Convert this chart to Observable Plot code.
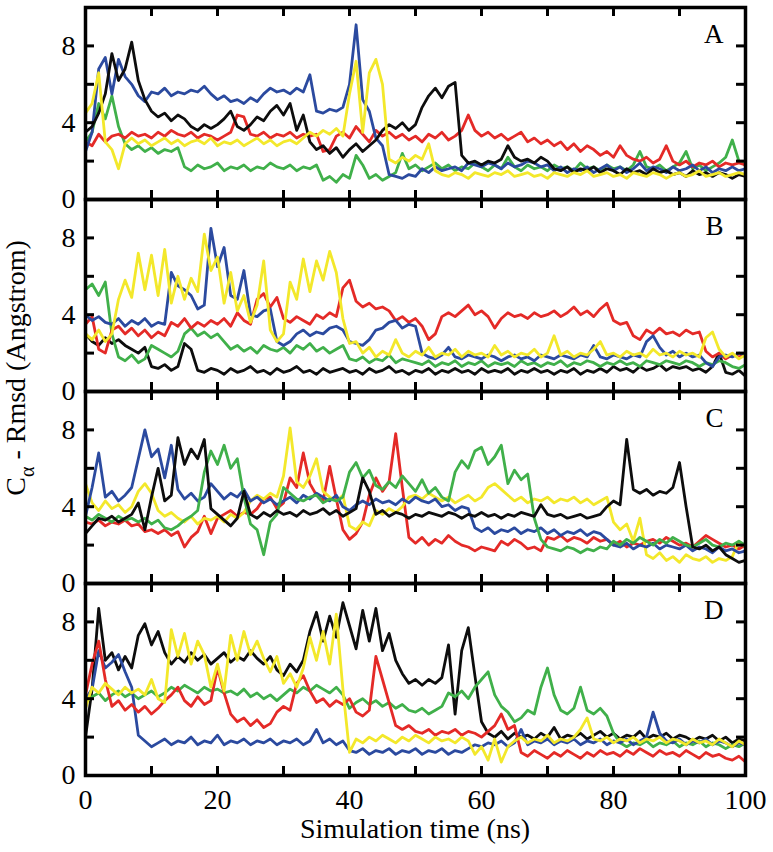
<!DOCTYPE html>
<html>
<head>
<meta charset="utf-8">
<script src="https://cdn.jsdelivr.net/npm/d3@7"></script>
<script src="https://cdn.jsdelivr.net/npm/@observablehq/plot@0.6"></script>
<style>
  html, body { margin: 0; padding: 0; background: #fff; }
  #chart { position: relative; width: 773px; height: 852px; overflow: hidden; font-family: "Liberation Serif", serif; }
  #chart svg { position: absolute; left: 0; top: 0; }
</style>
</head>
<body>
<div id="chart">
  <svg id="titles" width="773" height="852" style="pointer-events:none; background:transparent">
    <text transform="translate(25,368) rotate(-90)" text-anchor="middle" font-family="Liberation Serif" font-size="28" fill="black">C<tspan font-size="20" dy="9">α</tspan><tspan dy="-9"> - Rmsd (Angstrom)</tspan></text>
    <text x="415" y="838" text-anchor="middle" font-family="Liberation Serif" font-size="28" fill="black">Simulation time (ns)</text>
  </svg>
</div>
<script>
// ---------- data ----------
const times = [0,1,2,3,4,5,6,7,8,9,10,11,12,13,14,15,16,17,18,19,20,21,22,23,24,25,26,27,28,29,30,31,32,33,34,35,36,37,38,39,40,41,42,43,44,45,46,47,48,49,50,51,52,53,54,55,56,57,58,59,60,61,62,63,64,65,66,67,68,69,70,71,72,73,74,75,76,77,78,79,80,81,82,83,84,85,86,87,88,89,90,91,92,93,94,95,96,97,98,99,100];

const panelLabels = ["A", "B", "C", "D"];
const xTickLabels = [0, 20, 40, 60, 80, 100];
const xMinorTicks = [10, 20, 30, 40, 50, 60, 70, 80, 90];
const yTickLabels = [0, 4, 8];
const yMinorTicks = [2, 4, 6, 8];

// Panel A
const A_black = [3.5,3.8,4.5,5.5,7.6,6.2,6.8,8.2,6.2,5.2,4.6,4.3,4.5,4.1,4.4,4.2,3.8,3.6,3.9,3.7,3.9,4.2,4.6,3.8,3.6,3.9,4.3,4.1,4.6,4.9,4.4,5.0,3.6,4.4,3.0,2.6,2.8,2.4,2.7,2.2,2.6,2.9,2.5,2.8,3.1,3.6,3.9,3.7,4.0,3.6,3.9,4.8,5.4,5.8,5.3,5.9,6.1,2.3,1.9,2.0,1.8,2.0,1.9,2.1,2.8,2.2,2.0,2.1,1.9,2.2,2.0,1.6,1.5,1.7,1.4,1.6,1.5,1.7,1.4,1.6,1.5,1.3,1.6,1.4,1.5,1.3,1.6,1.4,1.5,1.3,1.4,1.2,1.5,1.3,1.4,1.2,1.4,1.3,1.1,1.3,1.2];
const A_red = [3.0,2.8,3.4,3.0,3.3,3.4,3.2,3.5,3.3,3.4,3.2,3.5,3.3,3.6,3.4,3.3,3.5,3.2,3.4,3.3,3.1,3.3,3.5,4.4,4.3,3.4,3.3,3.5,3.2,3.4,3.3,3.5,3.2,3.4,3.3,3.4,2.5,2.6,3.3,3.5,3.2,3.8,3.4,3.0,3.6,3.3,3.5,3.2,3.4,3.1,3.3,3.0,3.4,3.2,3.5,3.1,3.3,3.6,4.4,3.6,3.3,3.5,3.2,3.4,3.1,3.3,3.5,3.0,3.2,2.9,3.1,2.8,3.0,2.6,2.9,2.5,2.8,2.6,2.3,2.5,2.2,2.8,2.3,2.1,2.0,2.2,1.9,2.1,2.8,2.0,1.8,2.0,1.7,1.9,1.8,2.0,1.7,1.9,1.8,1.9,1.8];
const A_green = [3.0,3.5,5.0,4.2,5.4,3.8,2.9,2.6,2.8,2.5,2.7,2.4,2.6,2.5,2.7,1.7,1.5,1.8,1.6,1.7,1.9,1.5,1.7,1.6,1.8,1.5,1.7,1.6,1.9,1.7,1.6,1.8,1.5,1.7,1.6,1.8,1.0,1.2,0.9,1.3,1.1,2.3,1.8,1.1,1.3,1.0,1.2,1.4,2.4,1.6,1.8,1.5,1.7,1.9,1.6,1.8,1.5,1.7,1.6,1.9,1.7,1.5,1.8,1.6,2.2,1.7,1.5,1.8,1.6,1.7,1.5,1.8,1.6,1.7,1.5,1.9,1.6,1.7,1.5,1.8,1.6,1.7,1.5,1.8,2.5,1.7,1.6,1.8,1.5,1.7,1.9,2.5,1.6,1.8,1.5,1.7,1.9,2.2,3.1,2.0,1.8];
const A_blue = [2.5,3.5,6.8,7.4,5.5,7.3,6.4,6.0,5.4,5.1,5.6,5.5,5.8,5.4,5.6,5.5,5.7,5.6,5.9,5.5,5.2,5.4,5.1,5.2,5.0,5.3,5.1,5.5,5.8,5.6,5.7,5.5,5.8,5.6,6.5,4.6,4.5,4.7,4.6,4.8,6.0,9.1,5.2,4.6,3.2,2.8,1.3,1.2,1.1,1.3,1.2,1.6,1.4,1.7,1.5,1.6,1.7,1.5,1.9,1.8,1.7,1.9,1.8,1.6,1.9,1.7,1.8,2.0,1.9,1.7,1.8,1.5,1.7,1.4,1.6,1.5,1.7,1.4,1.6,1.8,1.5,1.7,1.4,1.6,1.9,1.5,1.7,1.6,1.4,1.7,1.5,1.6,1.8,1.5,1.7,1.4,1.6,1.5,1.7,1.5,1.6];
const A_yellow = [4.5,5.0,6.6,3.0,2.6,1.6,2.9,3.2,2.9,3.1,2.8,3.0,3.2,2.9,3.1,2.8,3.0,3.1,2.9,3.2,2.8,3.0,2.9,3.1,2.8,3.0,3.2,2.9,3.1,2.8,3.0,3.1,2.9,3.2,3.5,3.3,3.6,3.4,3.7,3.3,5.5,7.2,3.5,6.6,7.3,6.0,2.1,1.9,2.2,2.0,2.3,2.1,2.9,1.5,1.3,1.2,1.4,1.3,1.1,1.4,1.3,1.2,1.4,1.3,1.5,1.2,1.3,1.4,1.2,1.3,1.1,1.4,1.3,1.2,1.4,1.3,1.5,1.2,1.3,1.4,1.2,1.3,1.1,1.4,1.3,1.2,1.4,1.3,1.1,1.3,1.4,1.2,1.3,1.5,1.2,1.3,1.4,1.2,1.3,1.4,1.3];

// Panel B
const B_black = [3.0,2.6,2.4,2.8,2.5,2.7,2.4,2.2,2.0,2.3,1.3,1.2,1.4,1.1,1.3,2.5,2.2,1.1,1.0,1.2,1.1,0.9,1.2,1.0,1.1,1.3,1.0,1.1,0.9,1.2,1.0,1.1,1.3,1.0,1.1,0.9,1.2,1.0,1.1,1.2,1.0,1.1,0.9,1.2,1.0,1.1,1.3,1.0,1.1,0.9,1.1,1.0,1.2,0.9,1.1,1.0,1.2,1.0,1.1,0.9,1.2,1.0,1.1,1.0,1.2,0.9,1.1,1.0,1.2,1.0,1.1,0.9,1.1,1.0,1.2,0.9,1.1,1.0,1.2,1.0,1.3,1.1,1.2,1.0,1.3,1.1,1.2,1.4,1.1,1.3,1.2,1.3,1.1,1.2,1.0,1.3,2.0,1.0,0.9,1.1,0.8];
const B_red = [3.5,3.9,2.2,2.0,3.2,3.4,3.0,3.3,2.9,3.2,2.8,3.1,2.9,3.6,3.4,3.8,3.3,3.6,3.4,3.7,3.5,3.8,3.4,4.1,3.7,3.5,4.8,5.1,4.4,4.9,3.8,3.6,3.9,3.7,3.5,4.0,3.8,4.1,3.9,5.4,5.8,4.7,4.4,4.6,4.3,4.4,4.2,3.7,3.9,3.6,3.8,3.4,2.7,3.0,3.9,4.1,3.9,4.2,4.5,4.0,4.2,3.9,3.3,3.8,4.1,3.9,4.0,3.8,4.1,3.9,4.0,4.2,3.9,4.1,4.4,4.0,4.2,3.9,4.3,4.6,3.7,3.5,3.6,2.9,2.7,3.2,3.0,3.3,3.0,3.1,2.9,3.2,3.0,3.1,2.1,1.8,2.0,1.7,1.9,1.8,1.9];
const B_green = [5.3,5.6,5.0,5.7,3.0,1.8,1.6,1.9,1.5,1.7,2.4,2.2,2.0,1.8,2.1,3.0,3.3,2.9,3.1,2.8,3.0,2.6,2.2,2.4,2.1,2.3,2.0,2.4,2.2,2.1,2.3,2.0,2.4,2.2,2.5,2.1,2.3,2.0,2.2,2.4,1.7,1.6,1.8,1.5,1.7,1.6,1.9,1.5,1.7,1.6,1.5,1.4,1.6,1.3,1.5,1.4,1.6,1.3,1.5,1.4,1.6,1.3,1.5,1.4,1.5,1.3,1.6,1.4,1.5,1.3,1.5,1.4,1.6,1.3,1.5,1.4,1.6,1.5,1.3,1.5,1.4,1.6,1.4,1.5,1.3,1.6,1.5,1.4,1.6,1.5,1.4,1.6,1.5,1.3,1.5,1.4,1.6,1.5,1.3,1.2,1.4];
const B_blue = [4.0,3.7,3.9,3.6,3.5,3.8,3.4,3.7,3.5,3.8,3.4,3.6,3.5,6.2,5.5,5.3,5.0,4.3,4.5,8.5,6.5,7.5,5.0,4.8,6.3,4.0,3.9,4.2,4.3,2.6,2.4,2.6,3.0,3.2,2.9,3.1,3.0,3.3,3.4,3.2,2.6,2.5,2.4,2.7,3.2,3.3,3.6,3.7,3.3,3.5,3.4,2.0,1.8,1.7,1.9,2.3,1.8,1.7,1.9,1.8,1.7,1.9,1.8,1.6,1.8,1.9,1.7,1.8,1.6,1.9,1.8,1.7,1.9,1.8,1.7,1.9,1.8,2.4,1.8,1.7,1.9,1.8,1.7,1.9,1.8,2.6,2.9,2.3,1.9,2.1,1.8,2.0,1.8,1.9,1.5,1.3,1.8,1.9,1.8,2.0,1.9];
const B_yellow = [3.0,2.7,3.2,2.6,3.0,4.8,5.8,4.9,7.2,5.3,7.1,5.0,7.4,4.6,6.0,4.8,5.9,5.2,8.2,6.3,7.0,4.6,6.2,4.2,5.0,3.6,4.5,6.8,3.2,2.6,3.0,5.7,4.8,6.9,5.2,6.8,5.8,7.3,6.2,3.8,2.5,2.6,2.0,2.3,1.8,2.1,1.9,2.7,2.0,1.8,2.1,1.9,2.3,1.8,2.0,1.9,2.2,1.8,2.1,1.9,2.0,1.8,2.4,1.9,2.1,1.8,2.0,1.9,2.2,1.8,2.0,2.9,1.9,2.1,1.8,2.0,1.9,2.2,2.6,1.9,2.0,1.8,2.1,1.9,2.0,1.8,2.2,1.9,2.0,1.8,2.1,1.9,2.0,1.8,2.8,3.1,2.2,1.8,2.0,1.7,1.9];

// Panel C
const C_black = [2.6,3.0,3.4,3.3,3.5,3.2,3.4,3.6,4.2,2.8,4.5,6.0,4.3,4.6,7.6,6.2,7.0,6.5,7.5,3.9,3.6,3.3,3.0,3.4,4.8,3.6,3.4,3.7,3.5,3.8,3.6,3.7,3.5,3.8,3.6,3.7,3.9,3.6,3.8,3.5,3.7,3.9,5.5,4.8,3.6,3.8,3.5,3.7,3.6,3.4,3.6,3.5,3.7,3.6,3.5,3.7,3.6,3.4,3.6,3.5,3.7,3.5,3.6,3.4,3.6,3.5,3.7,3.6,3.5,4.1,3.6,3.5,3.6,3.4,3.5,3.6,3.4,3.5,3.6,4.0,4.3,4.1,7.5,4.9,4.7,4.9,4.6,4.8,4.7,5.0,6.3,4.0,1.9,1.8,2.0,1.7,1.9,1.5,1.3,1.1,1.2];
const C_red = [3.2,3.1,3.3,3.0,3.2,3.1,3.3,3.0,3.1,2.7,2.8,2.6,2.8,2.5,2.7,1.9,2.4,2.7,3.5,2.6,3.4,3.6,3.8,3.5,3.7,3.6,3.9,4.4,4.5,3.9,4.2,5.5,5.0,6.8,5.2,4.6,4.3,6.1,4.4,2.8,2.3,2.6,3.2,4.6,5.5,4.8,5.3,7.8,5.0,2.4,2.1,2.4,2.0,2.3,2.1,2.5,2.2,2.0,1.9,1.7,1.9,1.8,1.7,2.2,2.0,2.3,2.1,1.8,1.9,1.7,2.4,2.3,2.5,2.2,2.4,2.3,2.1,2.4,2.2,2.3,2.0,2.2,1.9,2.1,2.0,2.2,2.3,2.1,2.4,2.2,2.0,2.1,1.9,2.2,2.5,2.3,2.1,1.9,2.0,1.8,2.0];
const C_green = [3.5,3.3,3.6,3.4,3.2,3.5,3.3,3.4,3.2,3.4,3.1,3.3,2.9,2.8,3.0,3.3,3.5,3.8,5.8,6.9,6.2,7.2,6.0,6.5,4.5,3.1,2.8,1.5,3.2,3.6,5.0,4.7,4.4,4.3,4.5,4.6,4.2,4.4,4.3,4.5,5.8,6.3,5.5,5.9,5.1,4.9,5.3,5.0,5.6,5.2,4.8,5.4,4.7,5.0,4.5,4.3,5.8,6.4,6.0,6.9,7.1,6.2,6.6,7.2,5.2,5.9,5.4,5.7,3.4,2.3,1.9,1.8,1.7,1.9,1.8,1.6,1.8,1.7,1.9,1.8,2.2,2.0,2.3,2.1,2.4,2.2,2.0,2.3,2.1,2.4,2.2,2.0,1.9,2.1,2.3,2.0,1.9,2.1,2.0,2.2,2.0];
const C_blue = [3.5,5.0,6.8,4.5,4.8,4.3,4.6,5.0,6.5,8.0,6.6,7.0,5.5,7.2,4.9,4.4,4.7,4.3,4.5,5.2,4.8,4.4,4.7,4.5,4.9,4.3,4.5,4.2,4.4,4.1,4.3,4.5,4.2,4.6,4.4,4.7,4.5,4.3,4.6,4.0,3.8,4.1,4.3,4.1,4.4,4.2,4.3,4.1,4.4,4.2,4.5,4.3,4.2,4.4,4.0,4.1,3.8,4.0,3.9,2.9,2.7,2.9,2.6,2.8,2.7,2.9,2.6,2.8,2.7,2.9,2.6,2.8,2.5,2.7,2.6,2.8,2.5,2.7,2.6,2.3,2.0,1.9,2.1,1.8,2.0,1.9,2.1,1.8,2.0,1.9,1.8,2.0,1.7,1.9,1.8,1.6,1.9,1.7,1.8,1.6,1.7];
const C_yellow = [5.2,4.2,3.8,4.3,3.9,4.1,3.7,4.0,4.8,5.2,4.7,3.8,3.5,3.7,3.4,3.2,3.5,3.1,3.4,3.3,3.5,3.2,3.6,3.4,3.7,4.3,4.6,4.4,4.7,4.5,5.6,8.1,5.3,5.0,5.6,6.5,4.8,4.5,4.3,4.6,3.0,2.8,3.2,3.0,3.8,3.6,3.9,3.7,4.0,4.5,4.6,4.4,4.7,4.5,4.3,4.5,4.2,4.4,4.6,4.3,4.5,5.0,5.2,4.9,4.6,4.3,4.5,4.2,4.4,4.3,4.5,4.2,4.4,4.3,4.5,4.2,4.4,4.1,4.3,4.5,3.2,2.8,3.1,2.2,3.4,1.5,1.3,1.6,1.2,1.4,1.1,1.5,1.3,1.2,1.4,1.1,1.3,1.2,1.4,2.2,1.9];

// Panel D
const D_black = [2.0,4.5,8.7,6.0,6.4,5.5,6.2,5.6,7.3,7.9,6.8,7.5,6.4,5.8,6.2,5.9,6.4,6.0,6.3,5.8,6.1,6.4,5.9,6.2,6.0,6.5,6.1,5.8,6.2,5.5,5.2,5.8,5.4,6.0,7.5,8.5,7.0,8.3,7.2,9.0,7.8,6.6,8.6,7.0,8.7,6.5,7.4,6.0,5.3,4.8,5.0,4.7,5.0,4.8,5.1,6.8,3.2,6.5,7.7,5.2,2.8,2.2,2.0,2.3,1.9,2.2,2.0,2.1,1.9,2.2,2.0,2.5,1.9,2.1,2.0,2.2,1.9,2.1,2.3,2.0,2.2,1.9,2.1,2.0,2.3,1.9,2.1,2.0,2.2,1.9,2.1,2.0,1.8,2.0,1.9,2.1,1.8,2.0,1.7,1.9,1.8];
const D_red = [4.2,5.8,7.0,5.0,3.6,3.9,3.4,3.7,3.3,3.6,3.2,3.5,3.9,4.2,4.6,3.9,3.6,4.1,3.7,3.9,5.6,4.3,3.2,2.8,3.0,2.6,2.9,2.5,2.7,3.3,3.6,3.4,4.8,5.2,4.4,3.8,4.0,3.6,3.9,3.7,4.0,3.3,3.1,3.4,6.2,5.0,3.8,2.6,2.4,2.6,2.3,2.2,2.4,2.1,2.3,2.2,2.4,2.1,2.3,2.2,2.0,2.3,2.6,3.2,2.4,2.6,1.2,1.0,1.3,1.1,0.9,1.2,1.0,1.3,1.1,0.9,1.2,1.0,1.3,1.1,1.2,1.0,1.3,1.1,1.4,1.2,1.0,1.3,1.1,1.2,1.0,1.3,1.1,0.9,1.2,1.0,1.1,0.9,0.8,1.0,0.7];
const D_green = [3.8,4.1,4.3,3.9,4.2,4.4,4.1,4.3,4.0,4.2,4.4,4.1,4.3,4.6,4.4,4.7,4.5,4.3,4.6,4.4,4.5,4.3,4.4,4.2,4.5,4.1,4.3,4.0,4.2,3.9,4.2,4.5,4.3,4.6,4.4,4.7,4.5,4.3,4.6,4.2,3.5,3.8,4.0,3.7,3.9,3.6,3.8,3.5,3.7,3.4,3.3,3.5,3.2,3.4,3.6,4.3,4.1,4.4,4.0,4.6,5.0,5.4,4.2,3.6,3.3,2.8,3.0,3.4,3.2,4.6,5.6,4.2,3.4,3.2,3.5,4.6,3.4,3.2,3.5,3.1,2.2,1.7,1.5,1.7,1.6,1.8,1.5,1.7,1.6,1.8,1.5,1.7,1.6,1.8,1.5,1.7,1.6,1.4,1.6,1.5,1.7];
const D_blue = [4.0,4.5,6.5,5.6,5.9,6.3,5.4,4.6,2.1,1.8,1.5,1.7,1.9,1.6,1.8,1.7,2.0,1.6,1.8,1.7,2.1,1.6,1.8,1.7,1.9,1.6,1.8,1.7,1.9,1.6,1.8,1.7,1.9,1.6,1.8,2.4,1.7,1.9,1.6,1.8,1.3,1.2,1.4,1.1,1.3,1.2,1.4,1.1,1.3,1.2,1.4,1.1,1.3,1.2,1.4,1.1,1.3,1.2,1.4,1.6,1.5,1.7,1.6,1.8,1.5,1.7,2.4,1.6,1.8,1.7,1.9,1.6,1.8,1.7,1.9,1.6,1.8,1.7,1.9,1.6,1.8,1.7,1.9,1.6,1.8,2.0,3.3,2.2,1.8,1.7,1.9,1.6,1.8,1.7,1.9,1.6,1.8,1.7,1.5,1.7,1.6];
const D_yellow = [3.5,4.6,4.3,4.8,4.5,4.2,4.6,4.3,4.5,4.2,5.0,4.0,3.8,7.6,6.2,7.4,5.8,7.0,6.3,4.6,5.8,4.4,7.3,6.0,7.5,6.3,7.0,6.1,5.4,6.2,4.8,5.3,4.6,5.6,7.2,6.0,7.5,5.8,8.4,4.5,1.2,1.9,1.7,2.0,1.8,2.1,1.9,1.7,2.0,1.8,2.1,1.9,1.7,2.0,1.8,1.9,1.7,2.0,1.8,1.1,1.5,0.8,1.9,0.7,1.5,1.8,2.0,1.7,1.9,1.8,2.1,1.7,1.9,1.8,2.0,2.4,3.0,1.9,1.8,2.0,1.7,1.9,1.8,2.0,1.7,1.9,1.8,2.0,1.7,1.9,1.8,1.6,1.9,1.7,1.8,1.6,1.9,1.7,1.5,1.8,1.6];

// drawing order of the series in each panel (last drawn is on top)
const panelSeries = {
  A: [["green", A_green], ["red", A_red], ["blue", A_blue], ["black", A_black], ["yellow", A_yellow]],
  B: [["black", B_black], ["green", B_green], ["red", B_red], ["blue", B_blue], ["yellow", B_yellow]],
  C: [["red", C_red], ["yellow", C_yellow], ["blue", C_blue], ["green", C_green], ["black", C_black]],
  D: [["black", D_black], ["green", D_green], ["blue", D_blue], ["red", D_red], ["yellow", D_yellow]]
};

// ---------- styles ----------
const palette = {black: "#0d0d0d", red: "#e42a27", green: "#40b04a", blue: "#2b4a9f", yellow: "#f3e82b"};
const FONT = "Liberation Serif";
const W = 773, ML = 85, MR = 28;
const PANEL_H = 192, TOP0 = 7, PAD = 18, BOTTOM_M = 852 - (TOP0 + 4 * PANEL_H);
const FRAME_W = 660;
const TICK = 9;

const chart = document.getElementById("chart");

panelLabels.forEach((letter, i) => {
  const isLast = i === panelLabels.length - 1;
  const mb = isLast ? BOTTOM_M : PAD;
  const marks = [];
  for (const [name, vals] of panelSeries[letter]) {
    const rows = vals.map((v, j) => ({t: times[j], v}));
    marks.push(Plot.line(rows, {x: "t", y: "v", stroke: palette[name], strokeWidth: 2.8, strokeLinejoin: "round"}));
  }
  // inward ticks on all four sides
  marks.push(Plot.ruleX(xMinorTicks, {x: d => d, insetTop: PANEL_H - TICK, stroke: "black", strokeWidth: 3}));
  marks.push(Plot.ruleX(xMinorTicks, {x: d => d, insetBottom: PANEL_H - TICK, stroke: "black", strokeWidth: 3}));
  marks.push(Plot.ruleY(yMinorTicks, {y: d => d, insetRight: FRAME_W - TICK, stroke: "black", strokeWidth: 3}));
  marks.push(Plot.ruleY(yMinorTicks, {y: d => d, insetLeft: FRAME_W - TICK, stroke: "black", strokeWidth: 3}));
  marks.push(Plot.frame({stroke: "black", strokeWidth: 3.5}));
  marks.push(Plot.axisY(yTickLabels, {tickSize: 0, tickPadding: 10, label: null, fontSize: 28, fontFamily: FONT, fill: "black"}));
  marks.push(Plot.text([letter], {frameAnchor: "top-right", dx: -22, dy: 27, textAnchor: "end", lineAnchor: "middle", fontSize: 27, fontFamily: FONT, fill: "black"}));
  if (isLast) {
    marks.push(Plot.axisX(xTickLabels, {tickSize: 0, tickPadding: 14, label: null, fontSize: 28, fontFamily: FONT, fill: "black"}));
  }
  const svg = Plot.plot({
    width: W,
    height: PANEL_H + PAD + mb,
    marginLeft: ML,
    marginRight: MR,
    marginTop: PAD,
    marginBottom: mb,
    style: {background: "transparent", fontFamily: FONT, fontSize: "28px"},
    x: {domain: [0, 100], axis: null},
    y: {domain: [0, 10], axis: null},
    marks
  });
  svg.style.top = (TOP0 + i * PANEL_H - PAD) + "px";
  chart.appendChild(svg);
});
</script>
</body>
</html>
